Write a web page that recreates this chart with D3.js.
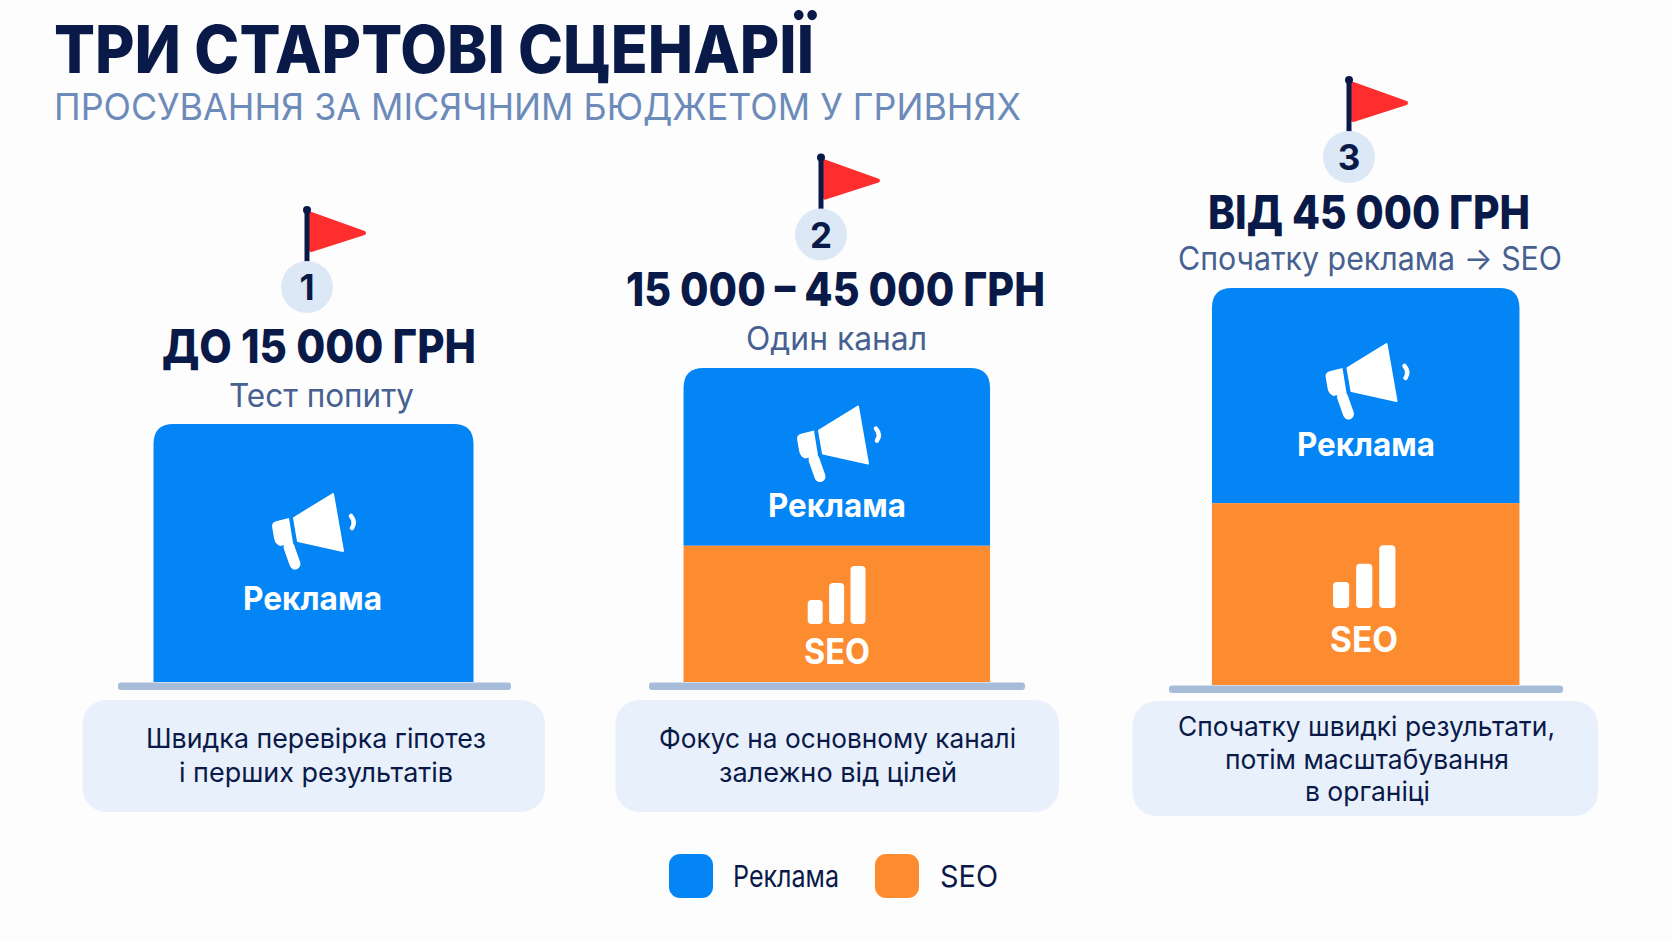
<!DOCTYPE html>
<html lang="uk">
<head>
<meta charset="utf-8">
<script src="https://cdnjs.cloudflare.com/ajax/libs/d3/7.8.5/d3.min.js"></script>
<style>
  html, body { margin: 0; padding: 0; background: #fdfdfe; }
  svg { display: block; font-family: Inter, "Noto Sans", sans-serif; }
</style>
</head>
<body>
<svg id="chart" width="1672" height="941"></svg>
<script>
// Bars have no axis in the picture, so values are relative heights (tallest stack ~ 100)
const scenarios = ["1", "2", "3"];
const budgets = ["ДО 15 000 ГРН", "15 000 – 45 000 ГРН", "ВІД 45 000 ГРН"];
const subtitles = ["Тест попиту", "Один канал", "Спочатку реклама → SEO"];
const adValues = [65, 44.8, 54.2];
const seoValues = [0, 34.3, 45.8];
const notes = [
    ["Швидка перевірка гіпотез", "і перших результатів"],
    ["Фокус на основному каналі", "залежно від цілей"],
    ["Спочатку швидкі результати,", "потім масштабування", "в органіці"]
];
const legendLabels = ["Реклама", "SEO"];

const colors = { ad: "#0385f6", seo: "#fd8c30", navy: "#0a1a48", sub: "#46608f", soft: "#6d8bb9" };

const svg = d3.select("#chart");

// per column geometry, the columns are not quite evenly spaced
const layout = {
    center: [313.5, 836.8, 1365.7],
    width: [320, 306.5, 307.5],
    base: [682, 682, 685],
    flagX: [307, 821, 1349],
    flagY: [210, 157.6, 80],
    titleSpan: [[162, 476], [626, 1045], [1208, 1530]],
    titleY: [363, 306, 229],
    subSpan: [[229, 414], [746, 927], [1178, 1562]],
    subY: [407, 350, 270],
    lineSpan: [[118, 511], [649, 1025], [1169, 1563]],
    cardSpan: [[82.5, 545], [615.5, 1059], [1132.5, 1598]],
    cardTop: [700, 700, 701],
    cardBottom: [812, 812, 816],
    noteSpans: [
        [[146, 486], [179, 453]],
        [[659, 1016], [719, 957]],
        [[1178, 1555], [1225, 1509], [1305, 1430]]
    ],
    noteTop: [748, 748, 736],
    noteStep: [34, 34, 32.5],
    adIcon: [[310, 530], [835, 442.6], [1363.5, 380]],
    adLabelSpan: [[243, 382], [768, 906], [1297, 1435]],
    adLabelY: [610, 517, 456],
    seoIcon: [null, [807.7, 624, 1], [1333, 608, 1.08]],
    seoLabelSpan: [null, [804, 870], [1330, 1398]],
    seoLabelY: [null, 664, 652]
};
const heightScale = d3.scaleLinear().domain([0, 100]).range([0, 397]);

// text squeezed to the extent measured on the reference
function fitText(parent, str, span, y, size, weight, fill) {
    return parent.append("text")
        .attr("x", span[0]).attr("y", y)
        .attr("textLength", span[1] - span[0]).attr("lengthAdjust", "spacingAndGlyphs")
        .attr("font-size", size).attr("font-weight", weight).attr("fill", fill)
        .text(str);
}

// Title
fitText(svg, "ТРИ СТАРТОВІ СЦЕНАРІЇ", [54, 814], 73, 66, 800, colors.navy);
fitText(svg, "ПРОСУВАННЯ ЗА МІСЯЧНИМ БЮДЖЕТОМ У ГРИВНЯХ", [54, 1021], 120, 37, 400, colors.soft);

// bar top corners rounded only
function topRounded(x, y, w, h, r) {
    const p = d3.path();
    p.moveTo(x, y + h);
    p.lineTo(x, y + r);
    p.quadraticCurveTo(x, y, x + r, y);
    p.lineTo(x + w - r, y);
    p.quadraticCurveTo(x + w, y, x + w, y + r);
    p.lineTo(x + w, y + h);
    p.closePath();
    return p.toString();
}

function megaphone(g, cx, cy) {
    const m = g.append("g").attr("transform", `translate(${cx},${cy})`).attr("fill", "#fff");
    m.append("path").attr("stroke", "#fff").attr("stroke-width", 2).attr("stroke-linejoin", "round")
        .attr("d", "M-16,-12 L23,-36 L33,21 L-12,11 Z");
    m.append("path").attr("d", "M-38,-4 Q-38,-8 -33,-9 L-21,-12 L-17,13 L-30,16 Q-35,14 -36,8 Z");
    m.append("path").attr("stroke", "#fff").attr("stroke-width", 11).attr("stroke-linecap", "round")
        .attr("d", "M-21,17 L-15,34");
    m.append("path").attr("fill", "none").attr("stroke", "#fff").attr("stroke-width", 4.5).attr("stroke-linecap", "round")
        .attr("d", "M41,-14 Q46,-8 42,-2");
}

function seoIcon(g, left, bottom, k) {
    const bars = [24, 41, 58];
    g.append("g").selectAll("rect").data(bars).join("rect")
        .attr("x", (d, i) => left + i * 21.4 * k)
        .attr("y", d => bottom - d * k)
        .attr("width", 15 * k).attr("height", d => d * k).attr("rx", 4)
        .attr("fill", "#fff");
}

scenarios.forEach((s, i) => {
    const g = svg.append("g");
    const cx = layout.center[i], w = layout.width[i], base = layout.base[i];
    const seoH = heightScale(seoValues[i]), adH = heightScale(adValues[i]);
    const x0 = cx - w / 2;

    // segments
    g.append("path").attr("fill", colors.ad)
        .attr("d", topRounded(x0, base - seoH - adH, w, adH, 20));
    if (seoValues[i] > 0) {
        g.append("rect").attr("x", x0).attr("y", base - seoH)
            .attr("width", w).attr("height", seoH).attr("fill", colors.seo);
    }

    // base line
    const line = layout.lineSpan[i];
    g.append("rect").attr("x", line[0]).attr("y", base + 0.5)
        .attr("width", line[1] - line[0]).attr("height", 7.5).attr("rx", 3)
        .attr("fill", "#a6bcd9");

    // note card
    const card = layout.cardSpan[i];
    g.append("rect").attr("x", card[0]).attr("y", layout.cardTop[i])
        .attr("width", card[1] - card[0])
        .attr("height", layout.cardBottom[i] - layout.cardTop[i])
        .attr("rx", 24).attr("fill", "#e8f0fb");
    notes[i].forEach((str, k) => {
        fitText(g, str, layout.noteSpans[i][k], layout.noteTop[i] + k * layout.noteStep[i], 27, 400, colors.navy);
    });

    // flag + number
    const fx = layout.flagX[i], fy = layout.flagY[i];
    g.append("path").attr("fill", "#ff2d2d").attr("stroke", "#ff2d2d").attr("stroke-width", 4).attr("stroke-linejoin", "round")
        .attr("d", `M${fx + 4},${fy + 4} L${fx + 57},${fy + 23} L${fx + 4},${fy + 40} Z`);
    g.append("rect").attr("x", fx - 2.5).attr("y", fy).attr("width", 5).attr("height", 52).attr("fill", colors.navy);
    g.append("circle").attr("cx", fx).attr("cy", fy).attr("r", 4).attr("fill", colors.navy);
    g.append("circle").attr("cx", fx).attr("cy", fy + 77).attr("r", 26).attr("fill", "#dde8f6");
    g.append("text").attr("x", fx).attr("y", fy + 90).attr("text-anchor", "middle")
        .attr("font-size", 35).attr("font-weight", 700).attr("fill", colors.navy).text(s);

    // headings
    fitText(g, budgets[i], layout.titleSpan[i], layout.titleY[i], 47, 800, colors.navy);
    fitText(g, subtitles[i], layout.subSpan[i], layout.subY[i], 32, 400, colors.sub);

    // segment labels and icons
    megaphone(g, layout.adIcon[i][0], layout.adIcon[i][1]);
    fitText(g, legendLabels[0], layout.adLabelSpan[i], layout.adLabelY[i], 33, 700, "#fff");
    if (seoValues[i] > 0) {
        seoIcon(g, layout.seoIcon[i][0], layout.seoIcon[i][1], layout.seoIcon[i][2]);
        fitText(g, legendLabels[1], layout.seoLabelSpan[i], layout.seoLabelY[i], 35, 700, "#fff");
    }
});

// Legend
const legendX = [669, 875];
const legendSpans = [[733, 839], [940, 998]];
const legendColors = [colors.ad, colors.seo];
legendLabels.forEach((label, i) => {
    svg.append("rect").attr("x", legendX[i]).attr("y", 854).attr("width", 44).attr("height", 44).attr("rx", 11).attr("fill", legendColors[i]);
    fitText(svg, label, legendSpans[i], 887, 30, 400, colors.navy);
});
</script>
</body>
</html>
